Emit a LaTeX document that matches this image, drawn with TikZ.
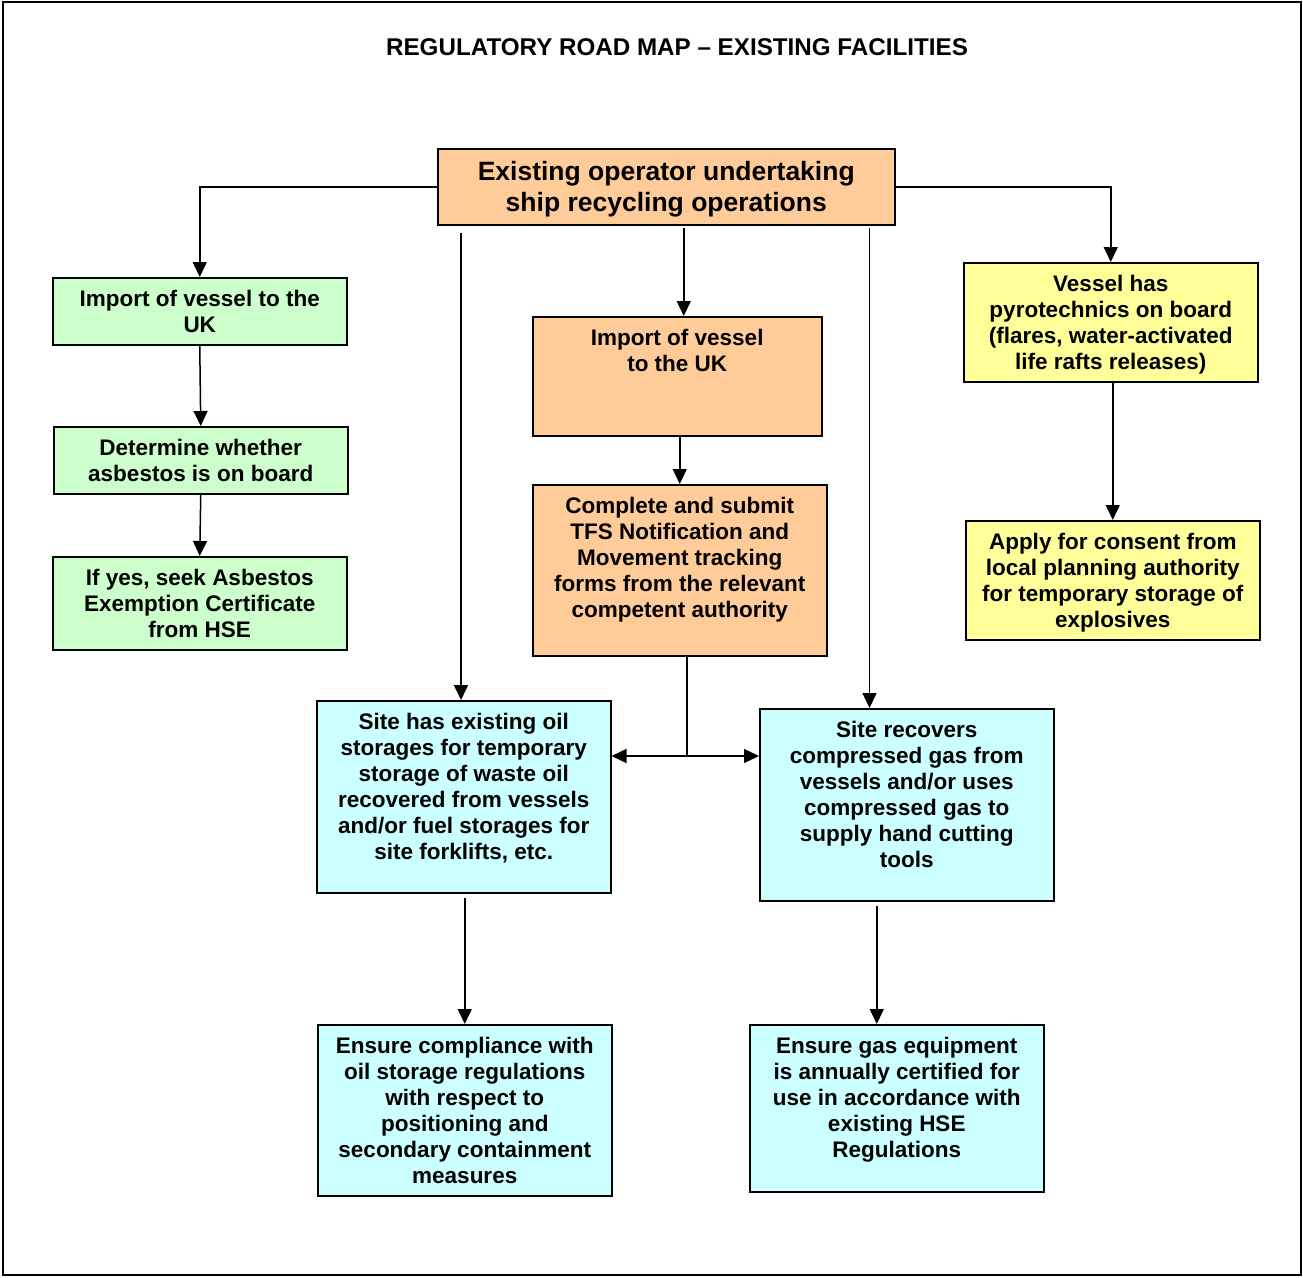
\documentclass[tikz,border=0pt]{standalone}
\usepackage{fontspec}
\setmainfont{Liberation Sans}
\usetikzlibrary{arrows.meta,calc}

\definecolor{peach}{RGB}{255,204,153}
\definecolor{mint}{RGB}{204,255,204}
\definecolor{lemon}{RGB}{255,255,153}
\definecolor{aqua}{RGB}{204,255,255}

\newcommand{\boxfont}{\fontsize{22.5}{26}\selectfont\bfseries}
\newcommand{\boxtext}[3]{\parbox[c][#2pt][t]{#1pt}{\vspace*{10.5pt}\centering\strut #3}}

\tikzset{
  stage/.style={draw, line width=1.5, inner sep=0pt, anchor=north west, font=\boxfont},
  arr/.style={line width=1.5, -{Triangle[length=15pt,width=14pt]}},
}

\begin{document}
\begin{tikzpicture}[x=1pt,y=1pt,yscale=-1]
\useasboundingbox (0,0) rectangle (1303,1277);

%Shape: Rectangle [frame]
\draw [line width=1.5] (3,2) rectangle (1301,1275);

% Text Node
\node [font=\fontsize{24.2}{28}\selectfont\bfseries] (title) at (677,47) {REGULATORY ROAD MAP – EXISTING FACILITIES};

%Shape: Rectangle [operator]
\node [stage, fill=peach, font=\fontsize{26.5}{31}\selectfont\bfseries] (operator) at (437,148) {\boxtext{457}{76}{Existing operator undertaking\\ship recycling operations}};

%Shape: Rectangle [asbestos column]
\node [stage, fill=mint] (importA) at (52,277) {\boxtext{294}{67}{Import of vessel to the\\UK}};
\node [stage, fill=mint] (asbestos) at (53,426) {\boxtext{294}{67}{Determine whether\\asbestos is on board}};
\node [stage, fill=mint] (exemption) at (52,556) {\boxtext{294}{93}{If yes, seek Asbestos\\Exemption Certificate\\from HSE}};

%Shape: Rectangle [TFS column]
\node [stage, fill=peach] (importB) at (532,316) {\boxtext{289}{119}{Import of vessel\\to the UK}};
\node [stage, fill=peach] (tfs) at (532,484) {\boxtext{294}{171}{Complete and submit\\TFS Notification and\\Movement tracking\\forms from the relevant\\competent authority}};

%Shape: Rectangle [pyrotechnics column]
\node [stage, fill=lemon] (pyro) at (963,262) {\boxtext{294}{119}{Vessel has\\pyrotechnics on board\\(flares, water-activated\\life rafts releases)}};
\node [stage, fill=lemon] (consent) at (965,520) {\boxtext{294}{119}{Apply for consent from\\local planning authority\\for temporary storage of\\explosives}};

%Shape: Rectangle [oil and gas]
\node [stage, fill=aqua] (oil) at (316,700) {\boxtext{294}{192}{Site has existing oil\\storages for temporary\\storage of waste oil\\recovered from vessels\\and/or fuel storages for\\site forklifts, etc.}};
\node [stage, fill=aqua] (gas) at (759,708) {\boxtext{294}{192}{Site recovers\\compressed gas from\\vessels and/or uses\\compressed gas to\\supply hand cutting\\tools}};
\node [stage, fill=aqua] (oilreg) at (317,1024) {\boxtext{294}{171}{Ensure compliance with\\oil storage regulations\\with respect to\\positioning and\\secondary containment\\measures}};
\node [stage, fill=aqua] (gasreg) at (749,1024) {\boxtext{294}{167}{Ensure gas equipment\\is annually certified for\\use in accordance with\\existing HSE\\Regulations}};

%Straight Lines [from operator]
\draw [arr] (operator.west) -| (importA.north);
\draw [arr] (operator.east) -| (pyro.north);
\draw [arr] ($(operator.south west)+(24,7)$) coordinate (opl) -- (opl |- oil.north);
\draw [arr] ($(operator.south)+(17.5,2)$) coordinate (opm) -- (opm |- importB.north);
\draw [arr] ($(operator.south east)+(-26,2)$) coordinate (opr) -- (opr |- gas.north);

%Straight Lines [columns]
\draw [arr] (importA.south) -- (asbestos.north);
\draw [arr] (asbestos.south) -- (exemption.north);
\draw [arr] (importB.south -| tfs.north) -- (tfs.north);
\draw [arr] (pyro.south -| consent.north) -- (consent.north);
\draw [arr] (oil.south -| oilreg.north) ++(0,4) -- (oilreg.north);
\draw [arr] ($(gas.south)+(-30,4)$) coordinate (gsl) -- (gsl |- gasreg.north);

%Straight Lines [split below TFS]
\coordinate (split) at (687,756);
\draw [line width=1.5] (tfs.south -| split) -- (split);
\draw [arr] (split) -- (split -| oil.east);
\draw [arr] (split) -- (split -| gas.west);

\end{tikzpicture}
\end{document}
